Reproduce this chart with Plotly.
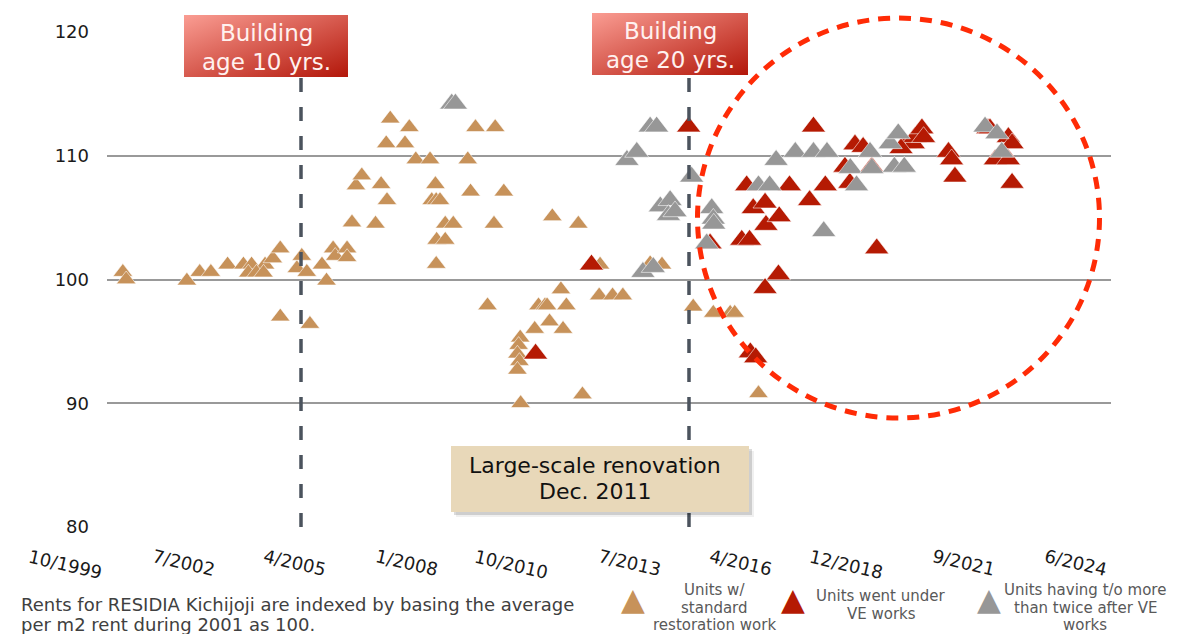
import base64
import plotly.graph_objects as go

# ---- data -------------------------------------------------------------
std_dates = [
    "2000-03-20", "2000-04-19", "2001-10-15", "2002-02-07", "2002-05-18", "2002-10-15",
    "2003-03-06", "2003-05-18", "2003-09-16", "2003-04-19", "2003-07-01", "2003-09-02",
    "2003-11-25", "2004-01-30", "2004-06-27", "2004-08-10", "2004-09-24", "2004-01-30",
    "2004-10-22", "2005-02-07", "2005-03-20", "2005-05-18", "2005-06-06", "2005-09-20",
    "2005-09-20", "2005-11-03", "2005-12-09", "2006-01-30", "2006-06-02", "2006-07-22",
    "2006-09-13", "2006-09-06", "2006-10-12", "2007-02-21", "2007-04-01", "2007-05-29",
    "2007-10-04", "2007-11-21", "2007-10-19", "2007-11-28", "2008-01-01", "2007-12-02",
    "2008-02-17", "2007-11-28", "2008-02-17", "2008-04-29", "2008-09-06", "2008-10-01",
    "2008-11-14", "2009-04-29", "2009-05-10", "2009-07-26", "2009-03-02", "2009-12-20",
    "2009-12-06", "2009-11-25", "2009-12-13", "2009-11-25", "2009-12-24", "2010-04-29",
    "2010-06-02", "2010-07-30", "2010-09-09", "2010-08-18", "2010-10-04", "2010-12-20",
    "2011-01-08", "2011-02-07", "2011-05-25", "2011-07-01", "2011-12-06", "2011-11-28",
    "2012-03-27", "2012-06-27", "2013-02-27", "2013-06-13", "2014-03-20", "2014-09-16",
    "2015-02-14", "2015-03-27", "2015-10-26",
]
std_index = [
    100.6, 100.0, 99.9, 100.6, 100.6, 101.2,
    101.2, 101.2, 101.2, 100.55, 100.55, 100.55,
    101.7, 102.5, 100.9, 101.9, 100.6, 97.0,
    96.4, 101.2, 99.9, 102.5, 101.9, 102.5,
    101.8, 104.6, 107.6, 108.4, 104.5, 107.7,
    106.4, 111.0, 113.0, 111.0, 112.3, 109.7,
    109.7, 107.7, 106.4, 106.4, 106.4, 103.2,
    103.2, 101.25, 104.5, 104.5, 109.7, 107.1,
    112.3, 104.5, 112.3, 107.1, 97.9, 95.3,
    94.7, 94.0, 93.4, 92.7, 90.0, 96.0,
    97.9, 97.9, 96.6, 97.9, 105.1, 99.2,
    96.0, 97.9, 104.5, 90.7, 101.2, 98.7,
    98.7, 98.7, 101.3, 101.2, 97.8, 97.3,
    97.3, 97.3, 90.8,
]

ve_dates = [
    "2010-05-07", "2011-09-20", "2014-02-07", "2014-08-18", "2015-05-29", "2015-08-07",
    "2015-07-12", "2015-09-09", "2015-12-24", "2016-01-01", "2016-04-29", "2016-07-30",
    "2015-12-24", "2016-04-22", "2015-08-14", "2015-10-01", "2017-01-26", "2017-03-02",
    "2017-06-16", "2017-12-09", "2018-01-22", "2018-03-09", "2018-05-21", "2018-08-07",
    "2018-09-20", "2019-06-02", "2019-08-14", "2019-08-28", "2019-10-30", "2019-11-14",
    "2020-06-24", "2020-07-22", "2020-08-21", "2021-06-13", "2021-07-01", "2021-12-13",
    "2022-01-15", "2021-08-18", "2021-12-13", "2022-01-15", "2019-04-26",
]
ve_index = [
    94.0, 101.2, 112.35, 102.9, 103.2, 103.2,
    107.6, 105.75, 106.2, 104.4, 105.1, 107.6,
    99.3, 100.4, 94.1, 93.7, 106.4, 112.35,
    107.6, 109.1, 107.8, 110.9, 110.7, 109.1,
    102.5, 111.0, 111.0, 111.5, 112.2, 111.5,
    110.3, 109.7, 108.3, 112.2, 112.2, 111.5,
    111.0, 109.7, 109.7, 107.8, 110.6,
]

turnover_dates = [
    "2008-04-15", "2008-05-18", "2012-08-03", "2012-10-30", "2013-02-27", "2013-04-26",
    "2012-12-24", "2013-03-27", "2013-05-29", "2013-08-25", "2013-08-10", "2013-10-08",
    "2014-03-06", "2014-09-02", "2014-09-16", "2014-09-20", "2014-07-19", "2015-10-26",
    "2016-02-03", "2016-04-01", "2016-09-20", "2017-03-02", "2017-07-01", "2017-06-02",
    "2018-01-26", "2018-03-23", "2018-07-22", "2019-01-19", "2019-04-01", "2019-02-25",
    "2019-05-25", "2021-05-18", "2021-09-02", "2021-10-15", "2018-08-07",
]
turnover_index = [
    114.2, 114.2, 109.65, 110.3, 112.35, 112.35,
    100.6, 101.0, 105.9, 106.4, 105.2, 105.5,
    108.3, 105.75, 104.9, 104.5, 102.9, 107.6,
    107.6, 109.65, 110.3, 110.3, 110.3, 103.9,
    109.0, 107.6, 110.3, 111.0, 111.8, 109.1,
    109.1, 112.35, 111.8, 110.3, 109.0,
]

series_names = [
    "Units w/<br>standard<br>restoration work",
    "Units went under<br>VE works",
    "Units having t/o more<br>than twice after VE<br>works",
]

tick_dates = [
    "1999-10-30", "2002-07-26", "2005-04-21", "2008-01-16", "2010-10-12",
    "2013-07-08", "2016-04-03", "2018-12-29", "2021-09-24", "2024-06-20",
]
tick_labels = [
    "10/1999", "7/2002", "4/2005", "1/2008", "10/2010",
    "7/2013", "4/2016", "12/2018", "9/2021", "6/2024",
]
y_ticks = [80, 90, 100, 110, 120]

age10_date = "2004-08-03"
age20_date = "2014-02-10"

# ---- styling ----------------------------------------------------------
W, H = 1198, 634
L, R, T, B = 107, 87, 32, 107
PW, PH = W - L - R, H - T - B
FONT = "Verdana, DejaVu Sans, sans-serif"

TAN = "#C7925A"
RED = "#B51A03"
GRAY = "#979797"


def px_x(x):
    return (x - L) / PW


def px_y(y):
    return (H - B - y) / PH


def gradient(c0, c1):
    svg = (
        '<svg xmlns="http://www.w3.org/2000/svg" viewBox="0 0 100 40" '
        'width="100" height="40" preserveAspectRatio="none">'
        '<defs><linearGradient id="g" x1="0" y1="0" x2="1" y2="1">'
        f'<stop offset="0" stop-color="{c0}"/><stop offset="1" stop-color="{c1}"/>'
        '</linearGradient></defs><rect width="100" height="40" fill="url(#g)"/></svg>'
    )
    return "data:image/svg+xml;base64," + base64.b64encode(svg.encode()).decode()


fig = go.Figure()

outline = dict(color="rgba(255,255,255,0.7)", width=0.8)
fig.add_trace(go.Scatter(
    x=std_dates, y=std_index, mode="markers", name=series_names[0],
    marker=dict(symbol="triangle-up", size=17, color=TAN, line=outline),
))
fig.add_trace(go.Scatter(
    x=ve_dates, y=ve_index, mode="markers", name=series_names[1],
    marker=dict(symbol="triangle-up", size=21, color=RED, line=outline),
))
fig.add_trace(go.Scatter(
    x=turnover_dates, y=turnover_index, mode="markers", name=series_names[2],
    marker=dict(symbol="triangle-up", size=21, color=GRAY, line=outline),
))

shapes = []
# building-age markers
for d in (age10_date, age20_date):
    shapes.append(dict(
        type="line", xref="x", yref="paper", x0=d, x1=d, y0=0, y1=px_y(64),
        line=dict(color="#4B535D", width=3.5, dash="14px,15px"), layer="above",
    ))
# renovation label box with soft shadow
bx0, bx1, by0, by1 = 451, 749, 446, 512
for off, alpha in ((5, 0.06), (3, 0.14)):
    shapes.append(dict(
        type="rect", xref="paper", yref="paper",
        x0=px_x(bx0 + off), x1=px_x(bx1 + off), y0=px_y(by1 + off), y1=px_y(by0 + off),
        fillcolor=f"rgba(0,0,0,{alpha})", line=dict(width=0), layer="above",
    ))
shapes.append(dict(
    type="rect", xref="paper", yref="paper",
    x0=px_x(bx0), x1=px_x(bx1), y0=px_y(by1), y1=px_y(by0),
    fillcolor="#E8D8B9", line=dict(width=0), layer="above",
))
# highlight ring around recent VE units
shapes.append(dict(
    type="circle", xref="paper", yref="paper",
    x0=px_x(697.5), x1=px_x(1099.5), y0=px_y(418), y1=px_y(18),
    line=dict(color="#FF2B06", width=5, dash="12px,9px"), layer="above",
))

images = []
for (x0, y0, w, h) in ((184, 15, 164, 62), (592, 13, 156, 62)):
    images.append(dict(
        source=gradient("#FA9D93", "#B3170A"), xref="paper", yref="paper",
        x=px_x(x0), y=px_y(y0), sizex=w / PW, sizey=h / PH,
        xanchor="left", yanchor="top", sizing="stretch", layer="above",
    ))

ann = []


def text(s, x, y, size, color, xanchor="center", angle=0, xref="paper"):
    ann.append(dict(
        text=s, x=x, y=y, xref=xref, yref="paper", showarrow=False,
        xanchor=xanchor, yanchor="middle", textangle=angle,
        font=dict(family=FONT, size=size, color=color),
    ))


# age boxes
text("Building", px_x(266), px_y(33), 23, "#FFF1EF")
text("age 10 yrs.", px_x(266), px_y(62), 23, "#FFF1EF")
text("Building", px_x(670), px_y(31), 23, "#FFF1EF")
text("age 20 yrs.", px_x(670), px_y(60), 23, "#FFF1EF")
# renovation box
text("Large-scale renovation", px_x(595), px_y(465), 22, "#111111")
text("Dec. 2011", px_x(595), px_y(491), 22, "#111111")

# rotated date labels
for d, lab in zip(tick_dates, tick_labels):
    ann.append(dict(
        text=lab, x=d, xref="x", y=px_y(543), yref="paper", showarrow=False,
        xanchor="right", yanchor="top", textangle=13,
        font=dict(family=FONT, size=18, color="#1A1A1A"),
    ))

# legend
legend_items = [
    (TAN, 632.5, 714, (590, 607.5, 625)),
    (RED, 793, 881, (596, 613.5)),
    (GRAY, 989, 1085, (590, 607.5, 625)),
]
for (col, mx, tx, ys), name in zip(legend_items, series_names):
    text("▲", px_x(mx), px_y(599), 31, col)
    for line, yy in zip(name.split("<br>"), ys):
        text(line, px_x(tx), px_y(yy), 15, "#595959")

# footnote
text("Rents for RESIDIA Kichijoji are indexed by basing the average",
     px_x(19), px_y(604), 18, "#404040", xanchor="left")
text("per m2 rent during 2001 as 100.",
     px_x(19), px_y(624), 18, "#404040", xanchor="left")

fig.update_layout(
    width=W, height=H, autosize=False,
    margin=dict(l=L, r=R, t=T, b=B),
    paper_bgcolor="white", plot_bgcolor="white",
    showlegend=False,
    font=dict(family=FONT, color="#1A1A1A"),
    shapes=shapes, images=images, annotations=ann,
    xaxis=dict(
        type="date", range=[tick_dates[0], tick_dates[-1]],
        showgrid=False, zeroline=False, showline=False,
        showticklabels=False, ticks="",
    ),
    yaxis=dict(
        range=[80, 120], tickvals=y_ticks,
        showgrid=True, gridcolor="#999999", gridwidth=2,
        zeroline=False, showline=False, ticks="",
        ticklabelstandoff=17,
        tickfont=dict(family=FONT, size=18, color="#1A1A1A"),
    ),
)

fig.write_html("out.html")
